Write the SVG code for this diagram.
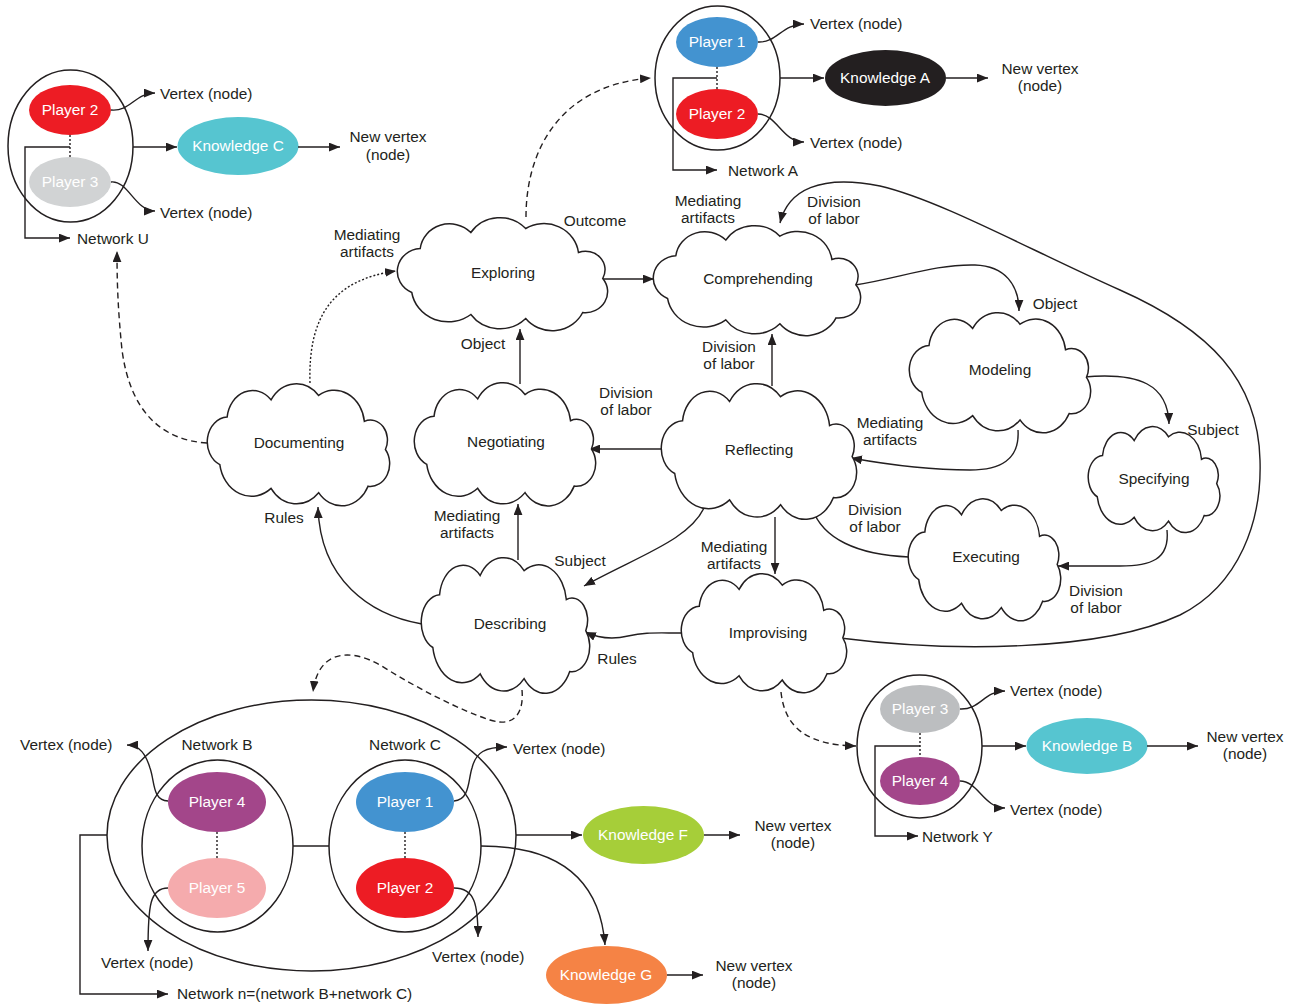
<svg xmlns="http://www.w3.org/2000/svg" width="1296" height="1005" viewBox="0 0 1296 1005">
  <style>
    text { font-family: "Liberation Sans", Arial, sans-serif; font-size: 15.4px; fill: #231f20; }
    .c { text-anchor: middle; }
    .w { fill: #ffffff; text-anchor: middle; }
    .ln { fill: none; stroke: #231f20; stroke-width: 1.4; }
    .arr { marker-end: url(#ah); }
    .dash { stroke-dasharray: 6 4; }
    .dot { stroke-dasharray: 2 2; }
    .ring { fill: none; stroke: #231f20; stroke-width: 1.5; }
    .cloud { fill: #ffffff; stroke: #231f20; stroke-width: 1.5; vector-effect: non-scaling-stroke; }
  </style>
  <defs>
    <marker id="ah" viewBox="0 0 10 8" refX="10" refY="4" markerWidth="11" markerHeight="9" markerUnits="userSpaceOnUse" orient="auto">
      <path d="M0,0 L10,4 L0,8 z" fill="#231f20"/>
    </marker>
    <!-- cloud outline, 200 x 111 box centred on the origin -->
    <path id="cloud" class="cloud" d="M-86,20 A23,23 0 0 1 -78,-24 A28,28 0 0 1 -30,-40 A33,33 0 0 1 22,-44 A33,33 0 0 1 72,-20 A18.5,18.5 0 0 1 95,6 A21,21 0 0 1 76,40 A32,32 0 0 1 22,46 A34,34 0 0 1 -30,42 A35,35 0 0 1 -86,20 Z"/>
  </defs>

  <rect width="1296" height="1005" fill="#ffffff"/>

  <!-- connectors -->
  <g id="connectors">
    <!-- activity flow between clouds -->
    <path class="ln arr" d="M603,279 L654,279"/>
    <path class="ln arr" d="M520,384 L520,329"/>
    <path class="ln arr" d="M772,386 L772,334"/>
    <path class="ln arr" d="M662,449 L589,449"/>
    <path class="ln arr" d="M518,560 L518,504"/>
    <path class="ln arr" d="M422,624 C370,615 320,580 318,507"/>
    <path class="ln arr" d="M705,506 C690,540 640,555 584,586"/>
    <path class="ln arr" d="M682,633 C655,633 645,632 628,636 C612,640 598,638 585,632"/>
    <path class="ln arr" d="M775,517 L775,574"/>
    <path class="ln arr" d="M855,285 C900,278 935,264 975,265 C1005,266 1019,285 1019,311"/>
    <path class="ln arr" d="M1084,377 C1140,372 1168,385 1169,424"/>
    <path class="ln arr" d="M1018,430 C1020,460 1000,470 970,470 C930,470 890,465 851,458"/>
    <path class="ln arr" d="M1167,530 C1170,560 1150,566 1120,566 L1058,566"/>
    <path class="ln arr" d="M909,557 C860,555 820,540 811,504"/>
    <path class="ln arr" d="M840,638 C950,652 1100,652 1180,615 C1240,585 1262,520 1260,460 C1258,380 1210,330 1120,290 C1030,250 940,200 880,186 C820,174 788,190 780,223"/>
    <!-- dashed links to the networks -->
    <path class="ln arr dot" d="M310,383 C308,320 330,280 396,271"/>
    <path class="ln arr dash" d="M526,217 C526,150 560,85 651,78"/>
    <path class="ln arr dash" d="M207,443 C160,440 130,410 122,350 C118,310 117,285 117,251"/>
    <path class="ln arr dash" d="M522,690 C524,712 515,728 490,720 C460,710 420,690 380,665 C350,648 318,650 313,692"/>
    <path class="ln arr dash" d="M781,692 C785,730 810,745 856,746"/>
  </g>

  <!-- labels on the activity connectors -->
  <g id="connector-labels">
    <text class="c" x="367" y="240">Mediating</text>
    <text class="c" x="367" y="257">artifacts</text>
    <text class="c" x="595" y="226">Outcome</text>
    <text class="c" x="708" y="206">Mediating</text>
    <text class="c" x="708" y="223">artifacts</text>
    <text class="c" x="834" y="207">Division</text>
    <text class="c" x="834" y="224">of labor</text>
    <text class="c" x="1055" y="309">Object</text>
    <text class="c" x="483" y="349">Object</text>
    <text class="c" x="729" y="352">Division</text>
    <text class="c" x="729" y="369">of labor</text>
    <text class="c" x="626" y="398">Division</text>
    <text class="c" x="626" y="415">of labor</text>
    <text class="c" x="890" y="428">Mediating</text>
    <text class="c" x="890" y="445">artifacts</text>
    <text class="c" x="1213" y="435">Subject</text>
    <text class="c" x="284" y="523">Rules</text>
    <text class="c" x="467" y="521">Mediating</text>
    <text class="c" x="467" y="538">artifacts</text>
    <text class="c" x="875" y="515">Division</text>
    <text class="c" x="875" y="532">of labor</text>
    <text class="c" x="580" y="566">Subject</text>
    <text class="c" x="734" y="552">Mediating</text>
    <text class="c" x="734" y="569">artifacts</text>
    <text class="c" x="1096" y="596">Division</text>
    <text class="c" x="1096" y="613">of labor</text>
    <text class="c" x="617" y="664">Rules</text>
  </g>

  <!-- activity clouds -->
  <g id="exploring">
    <use href="#cloud" transform="translate(502.5,272.5) scale(1.055,1)"/>
    <text class="c" x="503" y="278">Exploring</text>
  </g>
  <g id="comprehending">
    <use href="#cloud" transform="translate(757,279) scale(1.04,0.973)"/>
    <text class="c" x="758" y="284">Comprehending</text>
  </g>
  <g id="modeling">
    <use href="#cloud" transform="translate(1000,371) scale(0.91,1.063)"/>
    <text class="c" x="1000" y="375">Modeling</text>
  </g>
  <g id="negotiating">
    <use href="#cloud" transform="translate(505,442.5) scale(0.91,1.09)"/>
    <text class="c" x="506" y="447">Negotiating</text>
  </g>
  <g id="reflecting">
    <use href="#cloud" transform="translate(759,449.5) scale(0.98,1.2)"/>
    <text class="c" x="759" y="455">Reflecting</text>
  </g>
  <g id="documenting">
    <use href="#cloud" transform="translate(298.5,443) scale(0.915,1.08)"/>
    <text class="c" x="299" y="448">Documenting</text>
  </g>
  <g id="specifying">
    <use href="#cloud" transform="translate(1154,478) scale(0.66,0.937)"/>
    <text class="c" x="1154" y="484">Specifying</text>
  </g>
  <g id="executing">
    <use href="#cloud" transform="translate(984.5,558) scale(0.765,1.08)"/>
    <text class="c" x="986" y="562">Executing</text>
  </g>
  <g id="describing">
    <use href="#cloud" transform="translate(505.5,623.5) scale(0.845,1.2)"/>
    <text class="c" x="510" y="629">Describing</text>
  </g>
  <g id="improvising">
    <use href="#cloud" transform="translate(764,631.5) scale(0.83,1.054)"/>
    <text class="c" x="768" y="638">Improvising</text>
  </g>

  <!-- Network U -->
  <g id="network-u">
    <ellipse class="ring" cx="70.5" cy="146" rx="62.5" ry="76"/>
    <ellipse cx="70" cy="110" rx="41" ry="25" fill="#ed1c24"/>
    <text class="w" x="70" y="115">Player 2</text>
    <ellipse cx="70" cy="182" rx="41" ry="25" fill="#d1d3d4"/>
    <text class="w" x="70" y="187">Player 3</text>
    <path class="ln dot" d="M70,135 L70,157"/>
    <path class="ln arr" d="M70,147 L25,147 L25,238 L70,238"/>
    <text x="77" y="244">Network U</text>
    <path class="ln arr" d="M111,110 C130,112 135,93 155,93"/>
    <text x="160" y="99">Vertex (node)</text>
    <path class="ln arr" d="M111,182 C128,180 135,211 155,211"/>
    <text x="160" y="218">Vertex (node)</text>
    <path class="ln arr" d="M133,147 L177,147"/>
    <ellipse cx="238" cy="146" rx="60.5" ry="29" fill="#56c5d0"/>
    <text class="w" x="238" y="151">Knowledge C</text>
    <path class="ln arr" d="M298,147 L340,147"/>
    <text class="c" x="388" y="142">New vertex</text>
    <text class="c" x="388" y="160">(node)</text>
  </g>

  <!-- Network A -->
  <g id="network-a">
    <ellipse class="ring" cx="717.5" cy="78" rx="62.5" ry="72"/>
    <ellipse cx="717" cy="42" rx="41" ry="25" fill="#4393d0"/>
    <text class="w" x="717" y="47">Player 1</text>
    <ellipse cx="717" cy="114" rx="41" ry="25" fill="#ed1c24"/>
    <text class="w" x="717" y="119">Player 2</text>
    <path class="ln dot" d="M717,67 L717,89"/>
    <path class="ln arr" d="M717,78 L673,78 L673,170 L717,170"/>
    <text x="728" y="176">Network A</text>
    <path class="ln arr" d="M758,42 C777,43 782,24 804,24"/>
    <text x="810" y="29">Vertex (node)</text>
    <path class="ln arr" d="M758,114 C777,114 782,142 804,142"/>
    <text x="810" y="148">Vertex (node)</text>
    <path class="ln arr" d="M780,78 L824,78"/>
    <ellipse cx="885.5" cy="78" rx="60.5" ry="28" fill="#231f20"/>
    <text class="w" x="885" y="83">Knowledge A</text>
    <path class="ln arr" d="M946,78 L988,78"/>
    <text class="c" x="1040" y="74">New vertex</text>
    <text class="c" x="1040" y="91">(node)</text>
  </g>

  <!-- Network Y -->
  <g id="network-y">
    <ellipse class="ring" cx="919.5" cy="746.5" rx="62.5" ry="71.5"/>
    <ellipse cx="920" cy="709" rx="40" ry="24" fill="#bcbec0"/>
    <text class="w" x="920" y="714">Player 3</text>
    <ellipse cx="920" cy="781" rx="40" ry="24" fill="#a3468a"/>
    <text class="w" x="920" y="786">Player 4</text>
    <path class="ln dot" d="M920,733 L920,757"/>
    <path class="ln arr" d="M920,746 L875,746 L875,836 L918,836"/>
    <text x="922" y="842">Network Y</text>
    <path class="ln arr" d="M960,709 C980,710 984,691 1005,691"/>
    <text x="1010" y="696">Vertex (node)</text>
    <path class="ln arr" d="M960,781 C978,781 984,808 1005,808"/>
    <text x="1010" y="815">Vertex (node)</text>
    <path class="ln arr" d="M982,746 L1026,746"/>
    <ellipse cx="1087" cy="746" rx="60.5" ry="28" fill="#56c5d0"/>
    <text class="w" x="1087" y="751">Knowledge B</text>
    <path class="ln arr" d="M1147,746 L1198,746"/>
    <text class="c" x="1245" y="742">New vertex</text>
    <text class="c" x="1245" y="759">(node)</text>
  </g>

  <!-- Network n = network B + network C -->
  <g id="network-n">
    <ellipse class="ring" cx="311.5" cy="835.5" rx="204.5" ry="135.5"/>
    <ellipse class="ring" cx="217.5" cy="846" rx="75.5" ry="86"/>
    <ellipse class="ring" cx="405" cy="846" rx="76" ry="86"/>
    <path class="ln" d="M293,846 L329,846"/>
    <text class="c" x="217" y="750">Network B</text>
    <text class="c" x="405" y="750">Network C</text>
    <ellipse cx="217" cy="802" rx="49" ry="30" fill="#a3468a"/>
    <text class="w" x="217" y="807">Player 4</text>
    <ellipse cx="217" cy="888" rx="49" ry="30" fill="#f5abad"/>
    <text class="w" x="217" y="893">Player 5</text>
    <ellipse cx="405" cy="802" rx="49" ry="30" fill="#4393d0"/>
    <text class="w" x="405" y="807">Player 1</text>
    <ellipse cx="405" cy="888" rx="49" ry="30" fill="#ed1c24"/>
    <text class="w" x="405" y="893">Player 2</text>
    <path class="ln dot" d="M217,832 L217,858"/>
    <path class="ln dot" d="M405,832 L405,858"/>
    <path class="ln arr" d="M168,801 C152,800 155,782 150,768 C146,755 140,745 127,745"/>
    <text x="20" y="750">Vertex (node)</text>
    <path class="ln arr" d="M454,801 C470,800 468,780 472,768 C476,752 485,747 507,747"/>
    <text x="513" y="754">Vertex (node)</text>
    <path class="ln arr" d="M168,888 C150,888 148,905 148,951"/>
    <text x="101" y="968">Vertex (node)</text>
    <path class="ln arr" d="M454,888 C475,888 478,905 478,937"/>
    <text x="432" y="962">Vertex (node)</text>
    <path class="ln arr" d="M107,835 L80,835 L80,994 L168,994"/>
    <text x="177" y="999">Network n=(network B+network C)</text>
    <path class="ln arr" d="M516,835 L582,835"/>
    <ellipse cx="643.5" cy="835" rx="60.5" ry="29" fill="#a6ce39"/>
    <text class="w" x="643" y="840">Knowledge F</text>
    <path class="ln arr" d="M704,835 L740,835"/>
    <text class="c" x="793" y="831">New vertex</text>
    <text class="c" x="793" y="848">(node)</text>
    <path class="ln arr" d="M481,846 C560,846 600,880 605,945"/>
    <ellipse cx="606.5" cy="975" rx="60.5" ry="29" fill="#f58345"/>
    <text class="w" x="606" y="980">Knowledge G</text>
    <path class="ln arr" d="M667,975 L703,975"/>
    <text class="c" x="754" y="971">New vertex</text>
    <text class="c" x="754" y="988">(node)</text>
  </g>
</svg>
